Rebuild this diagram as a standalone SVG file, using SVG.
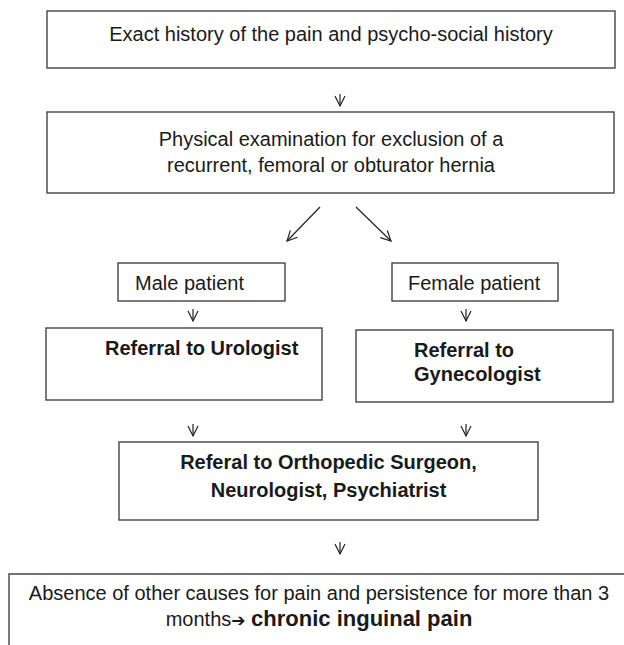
<svg xmlns="http://www.w3.org/2000/svg" width="624" height="645" viewBox="0 0 624 645">
<defs>
<marker id="ah" markerUnits="userSpaceOnUse" markerWidth="12" markerHeight="12" refX="10" refY="5" orient="auto" overflow="visible">
<path d="M0,0 L10,5 L0,10" fill="none" stroke="#222" stroke-width="1.2"/>
</marker>
<style>
.box{fill:#fff;stroke:#444;stroke-width:1.4}
.t{font-family:"Liberation Sans",Arial,sans-serif;font-size:20px;fill:#1a1a1a}
.b{font-weight:bold}
.c{text-anchor:middle}
.ln{stroke:#222;stroke-width:1.2;fill:none;marker-end:url(#ah)}
</style>
</defs>
<rect width="624" height="645" fill="#fff"/>
<g id="n1"><rect class="box" x="47" y="11" width="568" height="57"/><text class="t c" x="331" y="41">Exact history of the pain and psycho-social history</text></g>
<g id="n2"><rect class="box" x="47" y="112" width="567" height="81"/><text class="t c" x="331" y="146">Physical examination for exclusion of a</text><text class="t c" x="331" y="172">recurrent, femoral or obturator hernia</text></g>
<g id="n3"><rect class="box" x="118" y="263" width="167" height="38"/><text class="t" x="135" y="290">Male patient</text></g>
<g id="n4"><rect class="box" x="392" y="263" width="166" height="38"/><text class="t" x="408" y="290">Female patient</text></g>
<g id="n5"><rect class="box" x="46" y="328" width="276" height="72"/><text class="t b" x="105" y="355">Referral to Urologist</text></g>
<g id="n6"><rect class="box" x="356" y="330" width="257" height="72"/><text class="t b" x="414" y="357">Referral to</text><text class="t b" x="414" y="381">Gynecologist</text></g>
<g id="n7"><rect class="box" x="119" y="442" width="419" height="78"/><text class="t b c" x="328.5" y="469">Referal to Orthopedic Surgeon,</text><text class="t b c" x="328.5" y="497">Neurologist, Psychiatrist</text></g>
<g id="n8"><path class="box" d="M9,650 V574 H630" fill="none"/><text class="t c" x="319" y="600">Absence of other causes for pain and persistence for more than 3</text><text class="t c" x="319" y="626">months<tspan font-family="DejaVu Sans, sans-serif" font-size="17" font-weight="bold">➔</tspan> <tspan class="b" font-size="22">chronic inguinal pain</tspan></text></g>
<g id="connectors">
<line class="ln" x1="340" y1="94" x2="340" y2="106"/>
<line class="ln" x1="320" y1="207" x2="287" y2="241"/>
<line class="ln" x1="356" y1="207" x2="391" y2="241"/>
<line class="ln" x1="193" y1="309" x2="193" y2="321"/>
<line class="ln" x1="466" y1="309" x2="466" y2="321"/>
<line class="ln" x1="193" y1="424" x2="193" y2="436"/>
<line class="ln" x1="466" y1="424" x2="466" y2="436"/>
<line class="ln" x1="340" y1="542" x2="340" y2="554"/>
</g>
</svg>
